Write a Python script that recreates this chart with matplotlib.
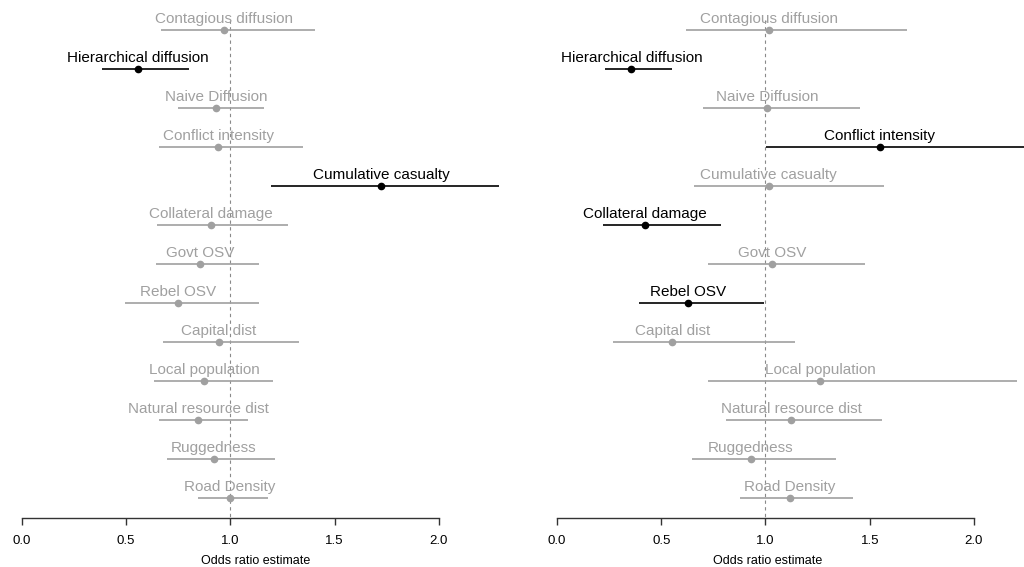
import matplotlib.pyplot as plt

plt.rcParams['font.family'] = ['Liberation Sans', 'DejaVu Sans']

variables = ["Contagious diffusion", "Hierarchical diffusion", "Naive Diffusion",
             "Conflict intensity", "Cumulative casualty", "Collateral damage",
             "Govt OSV", "Rebel OSV", "Capital dist", "Local population",
             "Natural resource dist", "Ruggedness", "Road Density"]

# modele 1 (gauche)
est_1 = [0.968, 0.557, 0.933, 0.942, 1.723, 0.907, 0.856, 0.750, 0.946, 0.875, 0.845, 0.920, 0.998]
low_1 = [0.667, 0.385, 0.750, 0.659, 1.197, 0.646, 0.645, 0.494, 0.675, 0.635, 0.658, 0.698, 0.845]
high_1 = [1.405, 0.803, 1.162, 1.349, 2.289, 1.277, 1.138, 1.136, 1.328, 1.205, 1.083, 1.214, 1.182]
sig_1 = [False, True, False, False, True, False, False, False, False, False, False, False, False]

# modele 2 (droite)
est_2 = [1.017, 0.357, 1.009, 1.549, 1.015, 0.420, 1.033, 0.627, 0.553, 1.263, 1.124, 0.930, 1.118]
low_2 = [0.619, 0.230, 0.700, 1.004, 0.657, 0.222, 0.723, 0.395, 0.269, 0.723, 0.809, 0.647, 0.879]
high_2 = [1.680, 0.552, 1.452, 2.400, 1.568, 0.788, 1.476, 0.994, 1.140, 2.206, 1.559, 1.340, 1.420]
sig_2 = [False, True, False, True, False, True, False, True, False, False, False, False, False]

ticks = [0.0, 0.5, 1.0, 1.5, 2.0]
tick_labels = ["0.0", "0.5", "1.0", "1.5", "2.0"]


def painel(ax, est, low, high, sig, xlim):
    n = len(est)
    for i in range(n):
        cor = "black" if sig[i] else "#a0a0a0"
        ax.plot([low[i], high[i]], [i, i], color=cor, lw=1.2, solid_capstyle="butt", zorder=2)
        ax.plot(est[i], i, "o", color=cor, ms=4.5, zorder=3)
        ax.annotate(variables[i], (est[i], i), xytext=(0, 5), textcoords="offset points",
                    ha="center", va="baseline", color=cor, fontsize=11)
    ax.plot([1, 1], [-0.25, 12.513], color="#8a8a8a", lw=0.8, ls=(0, (3, 3)), zorder=1)

    ax.set_xlim(*xlim)
    ax.set_ylim(12.513, -0.769)
    for s in ["top", "right", "left"]:
        ax.spines[s].set_visible(False)
    ax.spines["bottom"].set_bounds(0, 2)
    ax.spines["bottom"].set_color("#333333")
    ax.spines["bottom"].set_linewidth(1.0)
    ax.set_yticks([])
    ax.set_xticks(ticks)
    ax.set_xticklabels(tick_labels, fontsize=9.5)
    ax.tick_params(axis="x", length=5, width=1.0, color="#333333", pad=7)
    ax.set_xlabel("Odds ratio estimate", fontsize=9, labelpad=6)


fig = plt.figure(figsize=(10.24, 5.67), dpi=100)
ax1 = fig.add_axes([0.0, 0.0864, 0.5, 0.9136])
ax2 = fig.add_axes([0.5, 0.0864, 0.5, 0.9136])
for ax in (ax1, ax2):
    ax.patch.set_alpha(0)

painel(ax1, est_1, low_1, high_1, sig_1, (-0.1056, 2.352))
painel(ax2, est_2, low_2, high_2, sig_2, (-0.216, 2.240))

fig.savefig("out.png", dpi=100)
